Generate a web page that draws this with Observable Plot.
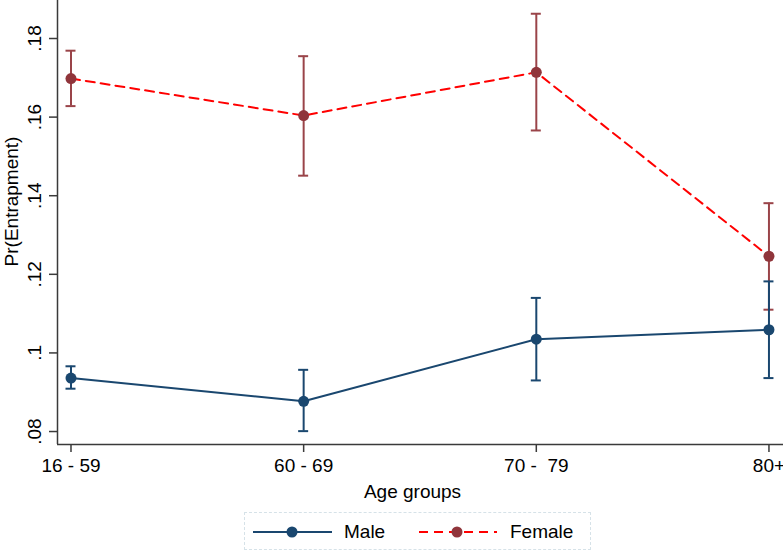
<!DOCTYPE html>
<html>
<head>
<meta charset="utf-8">
<script src="https://cdn.jsdelivr.net/npm/d3@7"></script>
<script src="https://cdn.jsdelivr.net/npm/@observablehq/plot@0.6"></script>
<style>
  html, body { margin: 0; padding: 0; background: #fff; }
  #wrap { position: relative; width: 783px; height: 552px; font-family: "Liberation Sans", Arial, sans-serif; }
  svg text { white-space: pre; }
  #legend { position: absolute; left: 244px; top: 512px; width: 347px; height: 38px; border: 1px dashed #d6e2e8; box-sizing: border-box; }
</style>
</head>
<body>
<div id="wrap"></div>
<script>
const categories = ["16 - 59", "60 - 69", "70 -  79", "80+"];
const maleEst = [0.0936, 0.0877, 0.1035, 0.1059];
const maleLo  = [0.0909, 0.0801, 0.0930, 0.0936];
const maleHi  = [0.0966, 0.0957, 0.1140, 0.1182];
const femaleEst = [0.1698, 0.1604, 0.1714, 0.1246];
const femaleLo  = [0.1628, 0.1451, 0.1566, 0.1110];
const femaleHi  = [0.1769, 0.1755, 0.1863, 0.1381];
const yTicks = [0.08, 0.10, 0.12, 0.14, 0.16, 0.18];
const yTickLabels = [".08", ".1", ".12", ".14", ".16", ".18"];
const seriesNames = ["Male", "Female"];

const male = categories.map((c, i) => ({i, est: maleEst[i], lo: maleLo[i], hi: maleHi[i]}));
const female = categories.map((c, i) => ({i, est: femaleEst[i], lo: femaleLo[i], hi: femaleHi[i]}));
const yTickData = yTicks.map((v, k) => ({v, label: yTickLabels[k]}));

const navy = "#1a476f", maroon = "#90353b", red = "#ff0000", axisCol = "#3a3a3a";
const xDomain = [-0.058, 3.0625];
const yDomain = [0.0767, 0.18967];
const font = "Liberation Sans, Arial, sans-serif";

const errMarks = (data, color) => [
  Plot.ruleX(data, {x: "i", y1: "lo", y2: "hi", stroke: color, strokeWidth: 2}),
  Plot.ruleY(data, {y: "hi", x1: "i", x2: "i", insetLeft: -5, insetRight: -5, stroke: color, strokeWidth: 2}),
  Plot.ruleY(data, {y: "lo", x1: "i", x2: "i", insetLeft: -5, insetRight: -5, stroke: color, strokeWidth: 2})
];

const chart = Plot.plot({
  width: 783,
  height: 510,
  marginLeft: 57,
  marginRight: 0,
  marginTop: 0,
  marginBottom: 66,
  style: {fontFamily: font, background: "#fff", overflow: "visible"},
  x: {type: "linear", domain: xDomain, axis: null},
  y: {type: "linear", domain: yDomain, axis: null},
  marks: [
    Plot.axisX({ticks: [0, 1, 2, 3], tickFormat: i => categories[i], tickSize: 8, tickPadding: 6, fontSize: 19, label: null, stroke: axisCol, strokeWidth: 1.5, fill: "#000"}),
    Plot.axisY({ticks: yTicks, tickFormat: () => "", tickSize: 8, label: null, stroke: axisCol, strokeWidth: 1.5}),
    Plot.text(yTickData, {y: "v", text: "label", frameAnchor: "left", dx: -17, rotate: -90, textAnchor: "middle", lineAnchor: "bottom", fontSize: 19, fill: "#000"}),
    Plot.text(["Pr(Entrapment)"], {frameAnchor: "left", dx: -40, dy: -21, rotate: -90, textAnchor: "middle", lineAnchor: "bottom", fontSize: 19, fill: "#000"}),
    Plot.text(["Age groups"], {frameAnchor: "bottom", dx: -8, dy: 53, textAnchor: "middle", lineAnchor: "bottom", fontSize: 19, fill: "#000"}),
    Plot.ruleX([xDomain[0]], {stroke: axisCol, strokeWidth: 1.5}),
    Plot.ruleY([yDomain[0]], {stroke: axisCol, strokeWidth: 1.5}),
    ...errMarks(female, "#9a4449"),
    ...errMarks(male, navy),
    Plot.line(female, {x: "i", y: "est", stroke: red, strokeWidth: 2, strokeDasharray: "9,6"}),
    Plot.line(male, {x: "i", y: "est", stroke: navy, strokeWidth: 2}),
    Plot.dot(female, {x: "i", y: "est", r: 5.5, fill: maroon, stroke: null}),
    Plot.dot(male, {x: "i", y: "est", r: 5.5, fill: navy, stroke: null})
  ]
});

const wrap = document.getElementById("wrap");
wrap.appendChild(chart);

const legend = document.createElement("div");
legend.id = "legend";
legend.innerHTML = `
<svg width="347" height="38" style="position:absolute;left:-1px;top:-1px;overflow:visible;font-family:${font}">
  <line x1="9" x2="88" y1="20" y2="20" stroke="${navy}" stroke-width="2"/>
  <circle cx="48" cy="20" r="5.5" fill="${navy}"/>
  <text x="100" y="26" font-size="19" fill="#000">${seriesNames[0]}</text>
  <line x1="175" x2="253" y1="20" y2="20" stroke="${red}" stroke-width="2" stroke-dasharray="9,6"/>
  <circle cx="213" cy="20" r="5.5" fill="${maroon}"/>
  <text x="266" y="26" font-size="19" fill="#000">${seriesNames[1]}</text>
</svg>`;
wrap.appendChild(legend);
</script>
</body>
</html>
